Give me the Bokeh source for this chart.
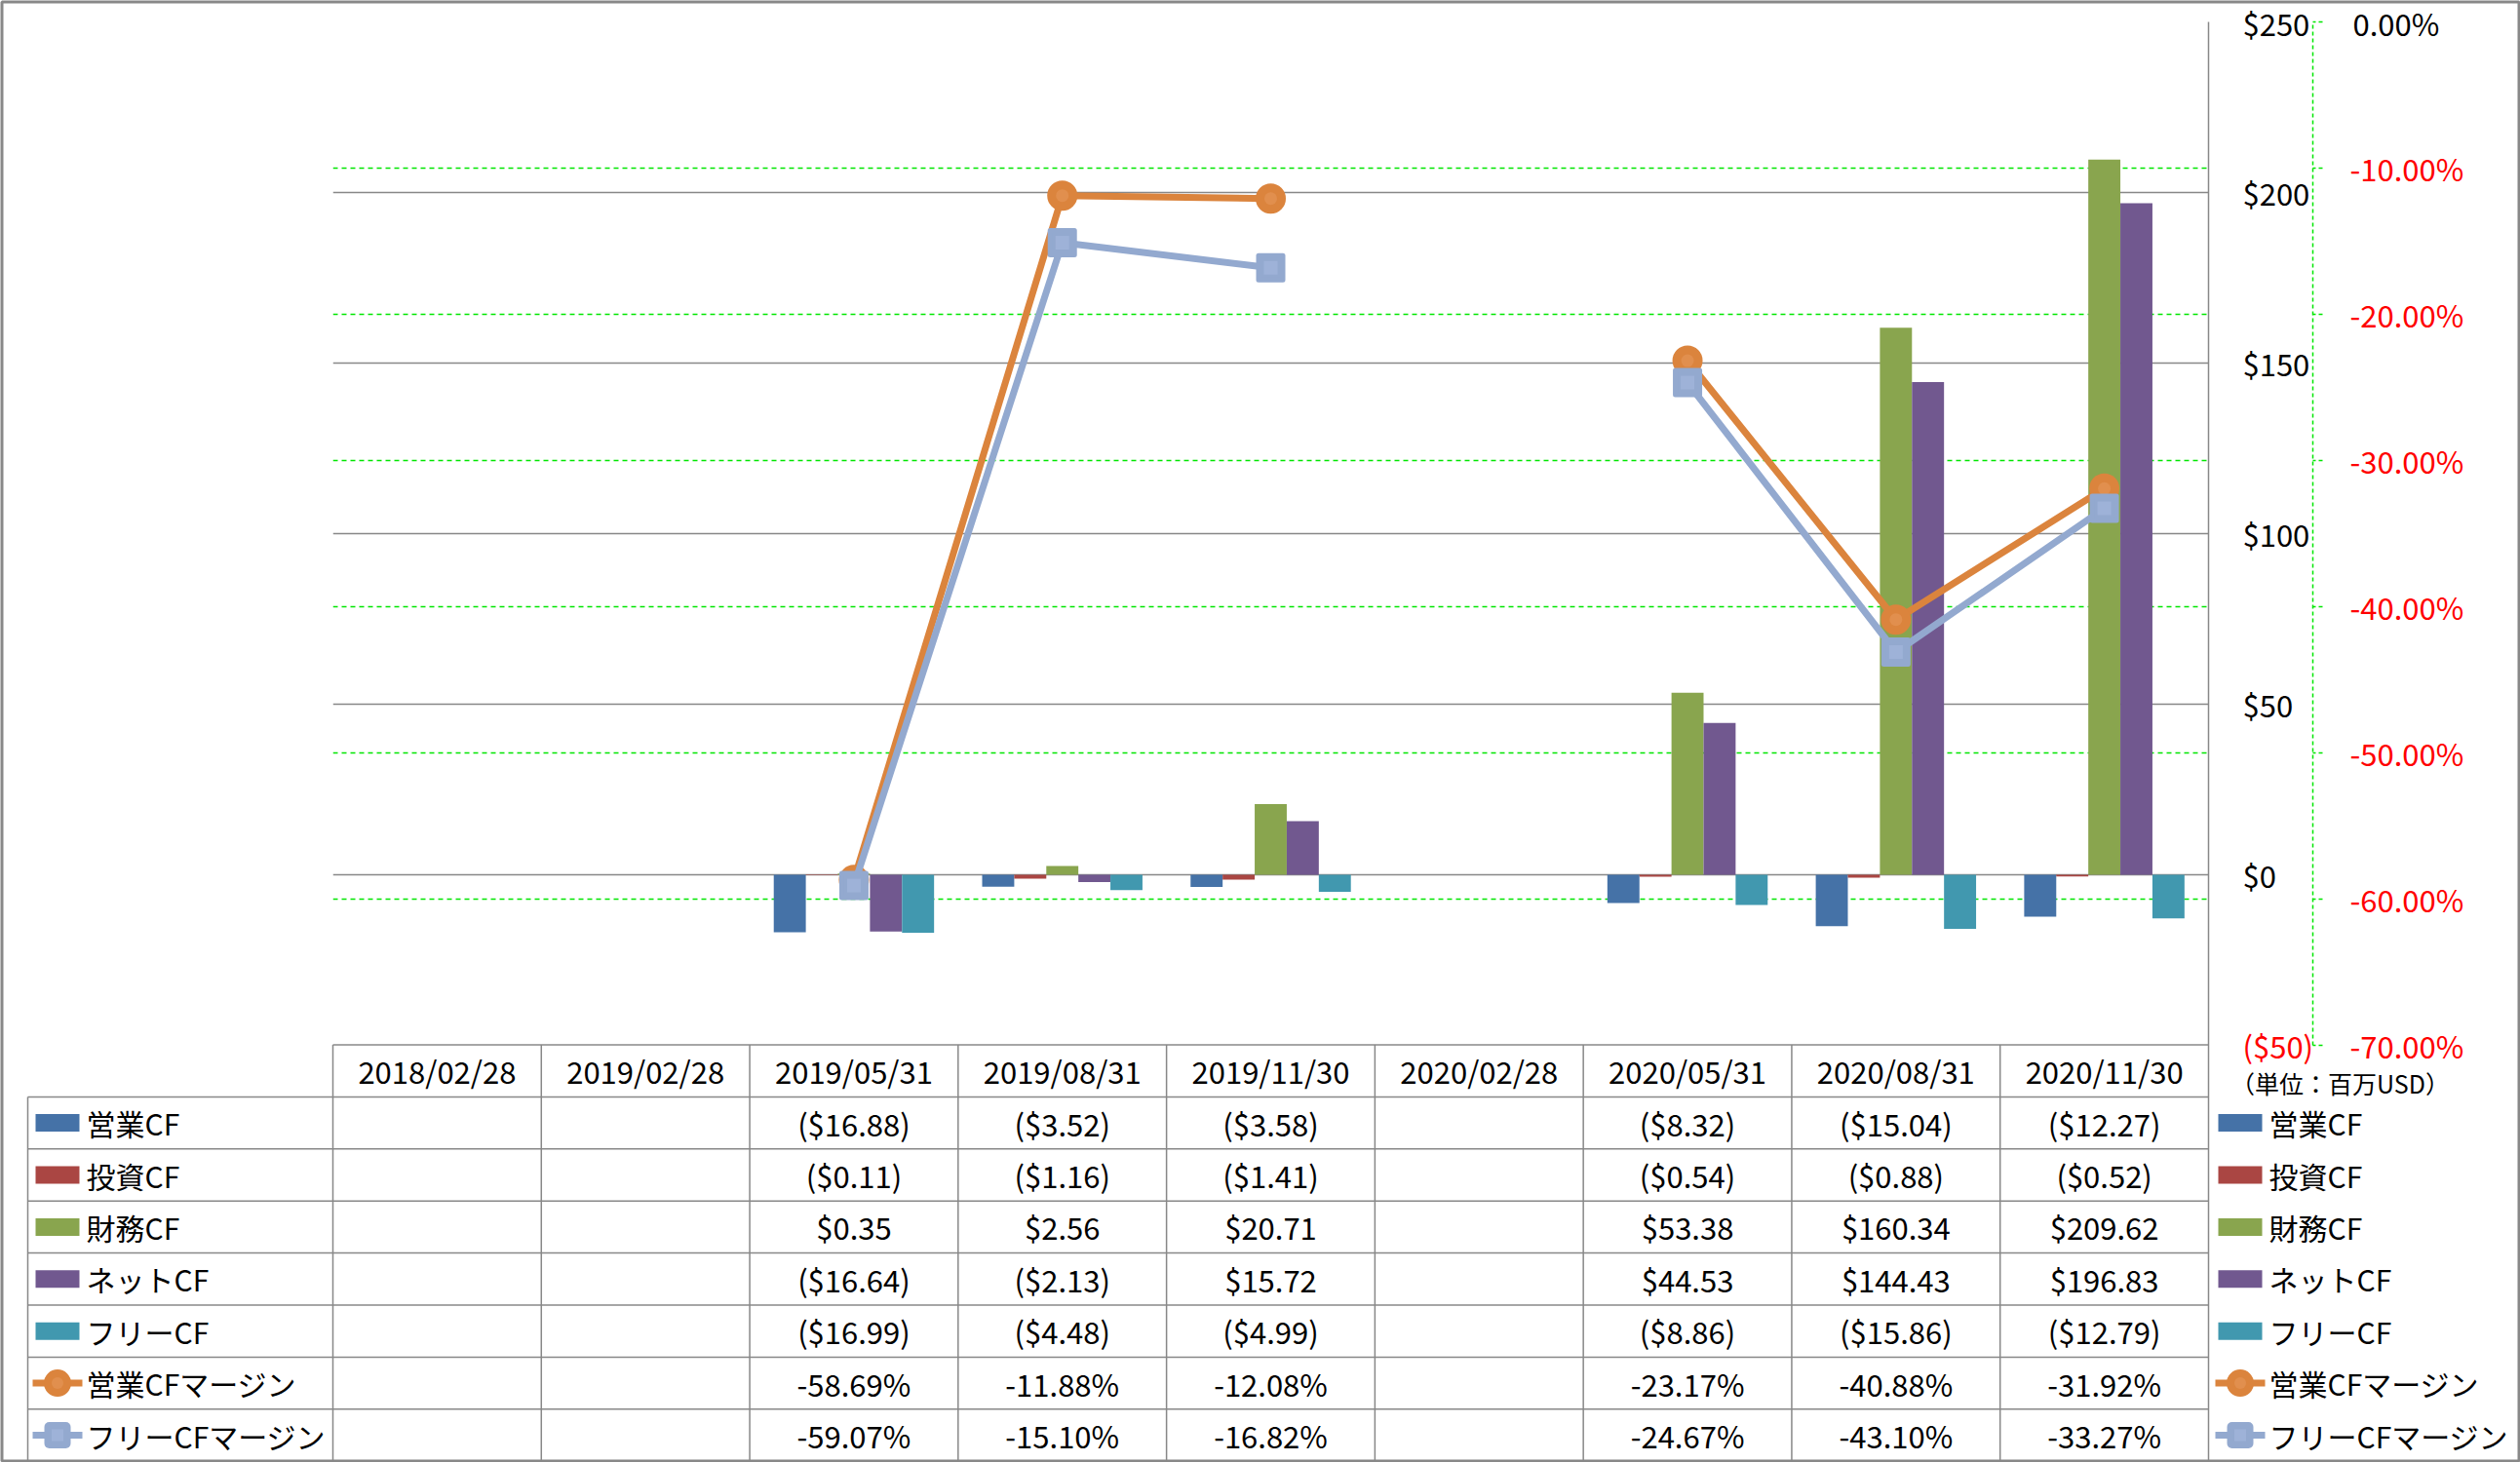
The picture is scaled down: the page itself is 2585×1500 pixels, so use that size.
import math
from bokeh.plotting import figure
from bokeh.models import (ColumnDataSource, FactorRange, Range1d, LinearAxis,
                          FixedTicker, Grid)
from bokeh.transform import dodge
from bokeh.core.properties import value
from bokeh.embed import file_html
from bokeh.resources import INLINE

nan = float("nan")

# ---------------- data ----------------
dates = ["2018/02/28", "2019/02/28", "2019/05/31", "2019/08/31", "2019/11/30",
         "2020/02/28", "2020/05/31", "2020/08/31", "2020/11/30"]
op_cf = [nan, nan, -16.88, -3.52, -3.58, nan, -8.32, -15.04, -12.27]
inv_cf = [nan, nan, -0.11, -1.16, -1.41, nan, -0.54, -0.88, -0.52]
fin_cf = [nan, nan, 0.35, 2.56, 20.71, nan, 53.38, 160.34, 209.62]
net_cf = [nan, nan, -16.64, -2.13, 15.72, nan, 44.53, 144.43, 196.83]
free_cf = [nan, nan, -16.99, -4.48, -4.99, nan, -8.86, -15.86, -12.79]
op_margin = [nan, nan, -58.69, -11.88, -12.08, nan, -23.17, -40.88, -31.92]
free_margin = [nan, nan, -59.07, -15.10, -16.82, nan, -24.67, -43.10, -33.27]

series_names = ["営業CF", "投資CF", "財務CF", "ネットCF", "フリーCF",
                "営業CFマージン", "フリーCFマージン"]
unit_label = "（単位：百万USD）"

pri_ticks = [-50, 0, 50, 100, 150, 200, 250]
pri_labels = ["($50)", "$0", "$50", "$100", "$150", "$200", "$250"]
sec_ticks = [-70, -60, -50, -40, -30, -20, -10, 0]
sec_labels = ["-70.00%", "-60.00%", "-50.00%", "-40.00%", "-30.00%",
              "-20.00%", "-10.00%", "0.00%"]

# ---------------- styles / layout ----------------
BAR_COLORS = ["#4572A7", "#AA4643", "#89A54E", "#71588F", "#4198AF"]
ORANGE = "#DB843D"
ORANGE_IN = "#E18F4E"
LBLUE = "#93A9CF"
LBLUE_IN = "#9EB2D8"
GRID_GREY = "#888888"
GREEN = "#00E600"
RED = "#FF0000"
FONT = "Noto Sans CJK JP"
FS = "31px"

W, H = 2585, 1500
FL, FR, FT, FB = 341, 2265, 22, 1072
CAT_W = (FR - FL) / len(dates)
ROW_H = 53.4
TBL_TOP = 1071.5


def sx(px):
    return (px - FL) / CAT_W


def ty(py):
    return (py - TBL_TOP) / ROW_H


def money(v):
    return "(${:.2f})".format(abs(v)) if v < 0 else "${:.2f}".format(v)


def pct(v):
    return "{:.2f}%".format(v)


p = figure(width=W, height=H, x_range=FactorRange(*dates),
           y_range=Range1d(pri_ticks[0], pri_ticks[-1]),
           output_backend="svg", toolbar_location=None, title=None,
           x_axis_location=None, y_axis_location=None,
           min_border_left=FL, min_border_right=W - FR,
           min_border_top=FT, min_border_bottom=H - FB,
           outline_line_color=None, background_fill_color="white",
           border_fill_color="white")
p.x_range.range_padding = 0
p.extra_y_ranges = {"pct": Range1d(sec_ticks[0], sec_ticks[-1]),
                    "tbl": Range1d(ty(FB), ty(FT))}
p.xgrid.visible = False
p.ygrid.visible = False

# grids
p.add_layout(Grid(dimension=1, ticker=FixedTicker(ticks=[t for t in pri_ticks if t >= 0]),
                  grid_line_color=GRID_GREY, grid_line_width=1.5), "center")
p.add_layout(Grid(dimension=1, y_range_name="pct",
                  ticker=FixedTicker(ticks=[t for t in sec_ticks if -70 < t < 0]),
                  grid_line_color=GREEN, grid_line_width=1.5, grid_line_dash="5 4"), "center")

# bars
src = ColumnDataSource(dict(date=dates, op=op_cf, inv=inv_cf, fin=fin_cf,
                            net=net_cf, free=free_cf, opm=op_margin, frm=free_margin))
bw = 1 / 6.5
for k, col in enumerate(["op", "inv", "fin", "net", "free"]):
    p.vbar(x=dodge("date", (k - 2) * bw, range=p.x_range), top=col, bottom=0,
           width=bw, source=src, fill_color=BAR_COLORS[k], line_color=None)

# margin lines
p.line(x="date", y="opm", source=src, y_range_name="pct", line_color=ORANGE, line_width=7)
p.scatter(x="date", y="opm", source=src, y_range_name="pct", marker="circle", size=31,
          fill_color=ORANGE, line_color=None)
p.scatter(x="date", y="opm", source=src, y_range_name="pct", marker="circle", size=13,
          fill_color=ORANGE_IN, line_color=None)
p.line(x="date", y="frm", source=src, y_range_name="pct", line_color=LBLUE, line_width=7)
p.scatter(x="date", y="frm", source=src, y_range_name="pct", marker="square", size=25,
          fill_color=LBLUE, line_color=LBLUE, line_width=5, line_join="round")
p.scatter(x="date", y="frm", source=src, y_range_name="pct", marker="square", size=14,
          fill_color=LBLUE_IN, line_color=None)

# axes (right side)
ax_p = LinearAxis(ticker=FixedTicker(ticks=[t for t in pri_ticks if t >= 0]),
                  major_label_overrides={t: l for t, l in zip(pri_ticks, pri_labels) if t >= 0})
ax_s = LinearAxis(y_range_name="pct", ticker=FixedTicker(ticks=sec_ticks),
                  major_label_overrides={t: (l if t >= 0 else "") for t, l in zip(sec_ticks, sec_labels)})
for ax in (ax_p, ax_s):
    ax.major_label_text_font = FONT
    ax.major_label_text_font_size = FS
    ax.major_label_text_color = "black"
    ax.minor_tick_line_color = None
    ax.minor_tick_out = 0
    ax.minor_tick_in = 0
    ax.major_tick_in = 0
ax_p.axis_line_color = None
ax_p.major_tick_line_color = None
ax_p.major_tick_out = 0
ax_p.major_label_standoff = 35
ax_s.axis_line_color = GREEN
ax_s.axis_line_dash = "4 3"
ax_s.axis_line_width = 1.5
ax_s.major_tick_line_color = GREEN
ax_s.major_tick_line_dash = "4 3"
ax_s.major_tick_line_width = 1.5
ax_s.major_tick_out = 10
ax_s.major_label_standoff = 31
p.add_layout(ax_p, "right")
p.add_layout(ax_s, "right")

# negative tick labels in red, placed through the axes' own scales
neg_p = [(t, l) for t, l in zip(pri_ticks, pri_labels) if t < 0]
neg_s = [(t, l) for t, l in zip(sec_ticks, sec_labels) if t < 0]
p.text(x=[sx(2300)] * len(neg_p), y=[t for t, _ in neg_p], text=[l for _, l in neg_p],
       text_align="left", text_baseline="middle", text_font=value(FONT),
       text_font_size=value(FS), text_color=RED, level="overlay")
p.text(x=[sx(2410)] * len(neg_s), y=[t for t, _ in neg_s], text=[l for _, l in neg_s],
       y_range_name="pct", text_align="left", text_baseline="middle",
       text_font=value(FONT), text_font_size=value(FS), text_color=RED, level="overlay")

# ---------------- data table ----------------
n = len(dates)
nrows = len(series_names)
LX = sx(28)
hx0 = [0] + [LX] * nrows
hx1 = [n] * (nrows + 1)
hy = list(range(nrows + 1))
vx = list(range(n + 1)) + [LX]
vy0 = [0] * n + [ty(FT)] + [1]
vy1 = [nrows + 1] * (n + 1) + [nrows + 1]
p.segment(x0=hx0, y0=hy, x1=hx1, y1=hy, y_range_name="tbl", line_color=GRID_GREY,
          line_width=1.5, level="overlay")
p.segment(x0=vx, y0=vy0, x1=vx, y1=vy1, y_range_name="tbl", line_color=GRID_GREY,
          line_width=1.5, level="overlay")

# header dates
p.text(x=dates, y=[0.5] * n, text=dates, y_range_name="tbl", text_align="center",
       text_baseline="middle", text_font=value(FONT), text_font_size=value(FS),
       text_color="black", level="overlay")

# values
tx, tyv, tt = [], [], []
all_series = [op_cf, inv_cf, fin_cf, net_cf, free_cf, op_margin, free_margin]
for r, vals in enumerate(all_series):
    for d, v in zip(dates, vals):
        if not math.isnan(v):
            tx.append(d)
            tyv.append(r + 1.5)
            tt.append(pct(v) if r >= 5 else money(v))
p.text(x=tx, y=tyv, text=tt, y_range_name="tbl", text_align="center",
       text_baseline="middle", text_font=value(FONT), text_font_size=value(FS),
       text_color="black", level="overlay")

# legend keys (left table column and right side)
row_y = [r + 1.5 for r in range(nrows)]
for cx, lx0, lx1, tx0 in [(sx(58.5), sx(33), sx(84), sx(88)),
                          (sx(2297.5), sx(2272), sx(2323), sx(2327))]:
    p.rect(x=[cx] * 5, y=row_y[:5], width=45, height=18, width_units="screen",
           height_units="screen", fill_color=BAR_COLORS, line_color=None,
           y_range_name="tbl", level="overlay")
    p.segment(x0=[lx0], y0=[row_y[5]], x1=[lx1], y1=[row_y[5]], line_color=ORANGE,
              line_width=7, y_range_name="tbl", level="overlay")
    p.rect(x=[cx], y=[row_y[5]], width=28, height=28, width_units="screen",
           height_units="screen", border_radius=14, fill_color=ORANGE,
           line_color=None, y_range_name="tbl", level="overlay")
    p.rect(x=[cx], y=[row_y[5]], width=12, height=12, width_units="screen",
           height_units="screen", border_radius=6, fill_color=ORANGE_IN,
           line_color=None, y_range_name="tbl", level="overlay")
    p.segment(x0=[lx0], y0=[row_y[6]], x1=[lx1], y1=[row_y[6]], line_color=LBLUE,
              line_width=7, y_range_name="tbl", level="overlay")
    p.rect(x=[cx], y=[row_y[6]], width=27, height=27, width_units="screen",
           height_units="screen", border_radius=5, fill_color=LBLUE,
           line_color=None, y_range_name="tbl", level="overlay")
    p.rect(x=[cx], y=[row_y[6]], width=12, height=12, width_units="screen",
           height_units="screen", fill_color=LBLUE_IN,
           line_color=None, y_range_name="tbl", level="overlay")
    p.text(x=[tx0] * nrows, y=row_y, text=series_names, y_range_name="tbl",
           text_align="left", text_baseline="middle", text_font=value(FONT),
           text_font_size=value("30px"), text_color="black", level="overlay")

# unit label
p.text(x=[sx(2400)], y=[ty(1110)], text=[unit_label], y_range_name="tbl",
       text_align="center", text_baseline="middle", text_font=value(FONT),
       text_font_size=value("25px"), text_color="black", level="overlay")

# outer border of the chart area
p.quad(left=[sx(1.5)], right=[sx(W - 1.5)], top=[ty(1.5)], bottom=[ty(H - 1.5)],
       fill_color=None, line_color=GRID_GREY, line_width=3, y_range_name="tbl",
       level="overlay")

open("out.html", "w").write(file_html(p, INLINE))
